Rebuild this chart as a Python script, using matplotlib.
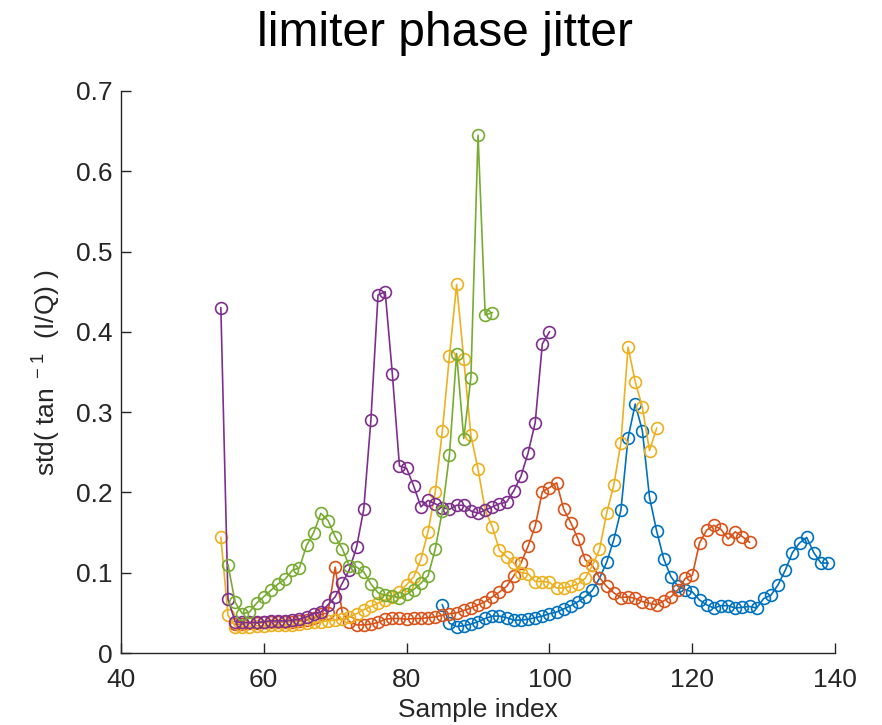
import matplotlib
matplotlib.use("Agg")
import matplotlib.pyplot as plt

plt.rcParams['font.family'] = ['Liberation Sans', 'DejaVu Sans']
plt.rcParams['mathtext.fontset'] = 'custom'
plt.rcParams['mathtext.rm'] = 'Liberation Sans'

# sample index where each run starts, and its values
blue_start = 85
blue = [0.060, 0.037, 0.033, 0.034, 0.036, 0.039, 0.043, 0.046, 0.046, 0.044,
        0.041, 0.041, 0.042, 0.044, 0.046, 0.049, 0.051, 0.055, 0.059, 0.064,
        0.070, 0.078, 0.093, 0.113, 0.141, 0.178, 0.268, 0.310, 0.277, 0.194,
        0.152, 0.117, 0.095, 0.083, 0.079, 0.076, 0.066, 0.060, 0.056, 0.059,
        0.059, 0.056, 0.057, 0.058, 0.056, 0.068, 0.072, 0.085, 0.103, 0.125,
        0.137, 0.144, 0.125, 0.112, 0.112]

orange_start = 56
orange = [0.036, 0.036, 0.037, 0.037, 0.038, 0.038, 0.038, 0.039, 0.039, 0.040,
          0.041, 0.043, 0.048, 0.050, 0.107, 0.050, 0.039, 0.035, 0.035, 0.036,
          0.038, 0.042, 0.043, 0.043, 0.042, 0.043, 0.043, 0.044, 0.045, 0.047,
          0.049, 0.050, 0.053, 0.056, 0.060, 0.064, 0.070, 0.076, 0.083, 0.096,
          0.112, 0.133, 0.158, 0.201, 0.206, 0.212, 0.179, 0.162, 0.142, 0.116,
          0.109, 0.094, 0.083, 0.075, 0.069, 0.070, 0.068, 0.064, 0.062, 0.060,
          0.065, 0.070, 0.079, 0.093, 0.097, 0.137, 0.153, 0.159, 0.154, 0.142,
          0.151, 0.145, 0.138]

yellow_start = 54
yellow = [0.144, 0.047, 0.033, 0.033, 0.033, 0.034, 0.034, 0.035, 0.035, 0.035,
          0.035, 0.036, 0.037, 0.038, 0.039, 0.040, 0.041, 0.042, 0.045, 0.049,
          0.054, 0.058, 0.062, 0.066, 0.070, 0.076, 0.085, 0.095, 0.117, 0.151,
          0.200, 0.276, 0.370, 0.459, 0.366, 0.271, 0.229, 0.178, 0.157, 0.128,
          0.120, 0.112, 0.100, 0.099, 0.089, 0.089, 0.088, 0.081, 0.081, 0.083,
          0.086, 0.093, 0.109, 0.129, 0.174, 0.209, 0.262, 0.381, 0.338, 0.306,
          0.252, 0.280]

purple_start = 54
purple = [0.430, 0.067, 0.039, 0.038, 0.038, 0.038, 0.039, 0.040, 0.040, 0.040,
          0.041, 0.042, 0.045, 0.049, 0.051, 0.060, 0.070, 0.087, 0.104, 0.132,
          0.179, 0.290, 0.446, 0.450, 0.348, 0.233, 0.230, 0.208, 0.182, 0.190,
          0.186, 0.181, 0.179, 0.184, 0.184, 0.177, 0.174, 0.178, 0.182, 0.186,
          0.188, 0.202, 0.220, 0.249, 0.287, 0.385, 0.400]

green_start = 55
green = [0.110, 0.063, 0.049, 0.051, 0.062, 0.070, 0.078, 0.086, 0.092, 0.103,
         0.106, 0.134, 0.150, 0.174, 0.165, 0.145, 0.130, 0.108, 0.107, 0.101,
         0.086, 0.075, 0.072, 0.071, 0.069, 0.073, 0.079, 0.087, 0.096, 0.129,
         0.177, 0.247, 0.373, 0.267, 0.343, 0.645, 0.421, 0.424]

runs = [(blue_start, blue, (0, 0.447, 0.741)),
        (orange_start, orange, (0.85, 0.325, 0.098)),
        (yellow_start, yellow, (0.929, 0.694, 0.125)),
        (purple_start, purple, (0.494, 0.184, 0.556)),
        (green_start, green, (0.466, 0.674, 0.188))]

fig = plt.figure(figsize=(8.82, 7.25), dpi=100)
ax = fig.add_axes([0.137, 0.0993, 0.81, 0.7752])

for start, vals, col in runs:
    xs = list(range(start, start + len(vals)))
    ax.plot(xs, vals, 'o-', color=col, linewidth=1.2, markersize=8.5,
            markerfacecolor='none', markeredgewidth=1.2)

ax.set_xlim(40, 140)
ax.set_ylim(0, 0.7)
ax.set_xticks([40, 60, 80, 100, 120, 140])
ax.set_yticks([0, 0.1, 0.2, 0.3, 0.4, 0.5, 0.6, 0.7])
ax.set_yticklabels(['0', '0.1', '0.2', '0.3', '0.4', '0.5', '0.6', '0.7'])
ax.spines['top'].set_visible(False)
ax.spines['right'].set_visible(False)
for s in ['left', 'bottom']:
    ax.spines[s].set_color('#262626')
    ax.spines[s].set_linewidth(1.0)
ax.tick_params(direction='in', length=7, width=1.0, colors='#262626',
               labelsize=19)
ax.tick_params(axis='y', pad=6)
ax.tick_params(axis='x', pad=11)

ax.set_xlabel('Sample index', fontsize=19, color='#262626', labelpad=4)
ax.set_ylabel('std( tan$^{\\ -1}$  (I/Q) )', fontsize=19, color='#262626',
              labelpad=10)
fig.text(0.5045, 1 - 33 / 725, 'limiter phase jitter', fontsize=34.5,
         ha='center', va='center')

fig.savefig('out.png', dpi=100)
